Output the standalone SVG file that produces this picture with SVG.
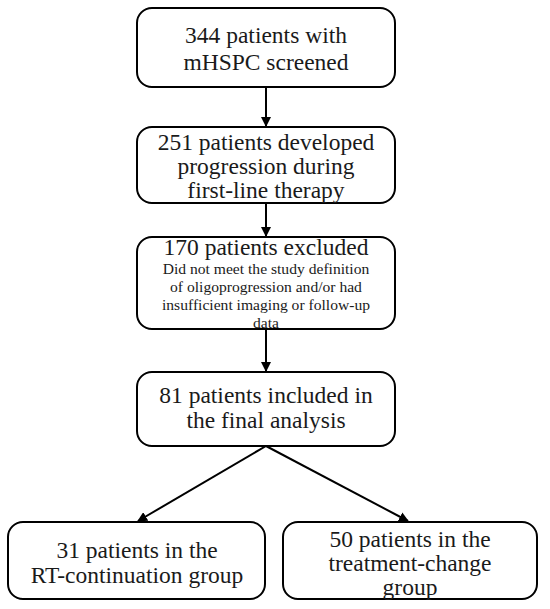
<svg xmlns="http://www.w3.org/2000/svg" width="550" height="609" viewBox="0 0 550 609">
<defs>
<style>
.box{fill:#fff;stroke:#000;stroke-width:2}
.t{font-family:"Liberation Serif","Times New Roman",serif;font-size:23.5px;fill:#1a1a1a;text-anchor:middle}
.s{font-family:"Liberation Serif","Times New Roman",serif;font-size:15.6px;fill:#1a1a1a;text-anchor:middle}
.c{stroke:#000;stroke-width:2;fill:none;marker-end:url(#ah)}
</style>
<marker id="ah" viewBox="0 0 10 10" refX="9" refY="5" markerWidth="5" markerHeight="5" orient="auto" markerUnits="strokeWidth">
<path d="M0,0 L10,5 L0,10 z" fill="#000"/>
</marker>
</defs>
<rect width="550" height="609" fill="#fff"/>
<g id="connectors">
<line class="c" x1="266" y1="87" x2="266" y2="126"/>
<line class="c" x1="266" y1="203" x2="266" y2="236"/>
<line class="c" x1="266" y1="329" x2="266" y2="371"/>
<line class="c" x1="266" y1="446" x2="138" y2="521"/>
<line class="c" x1="266" y1="446" x2="408" y2="521"/>
</g>
<g id="n1">
<rect class="box" x="137" y="8" width="258" height="79" rx="15"/>
<text class="t" x="266" y="43">344 patients with</text>
<text class="t" x="266" y="70">mHSPC screened</text>
</g>
<g id="n2">
<rect class="box" x="137" y="127" width="258" height="76" rx="15"/>
<text class="t" x="266" y="150">251 patients developed</text>
<text class="t" x="266" y="174">progression during</text>
<text class="t" x="266" y="198">first-line therapy</text>
</g>
<g id="n3">
<rect class="box" x="137" y="237" width="258" height="92" rx="15"/>
<text class="t" x="266" y="255">170 patients excluded</text>
<text class="s" x="266" y="274">Did not meet the study definition</text>
<text class="s" x="266" y="292">of oligoprogression and/or had</text>
<text class="s" x="266" y="310">insufficient imaging or follow-up</text>
<text class="s" x="266" y="328">data</text>
</g>
<g id="n4">
<rect class="box" x="137" y="372" width="258" height="74" rx="15"/>
<text class="t" x="266" y="403">81 patients included in</text>
<text class="t" x="266" y="428">the final analysis</text>
</g>
<g id="n5">
<rect class="box" x="8" y="522" width="257" height="77" rx="15"/>
<text class="t" x="137" y="558">31 patients in the</text>
<text class="t" x="137" y="583">RT-continuation group</text>
</g>
<g id="n6">
<rect class="box" x="283" y="522" width="254" height="77" rx="15"/>
<text class="t" x="410" y="547">50 patients in the</text>
<text class="t" x="410" y="571">treatment-change</text>
<text class="t" x="410" y="595">group</text>
</g>
</svg>
